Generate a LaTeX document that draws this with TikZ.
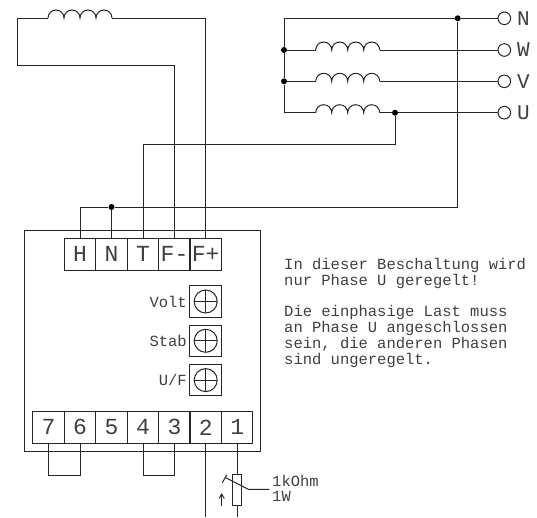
\documentclass[tikz,border=0pt]{standalone}
\usepackage{fontspec}
\setmonofont{Liberation Mono}
\usepackage{tikz}
\usetikzlibrary{arrows}
\tikzset{
  wire/.style = {draw=black!85, line width=1pt},
  terminal/.style = {rectangle, draw=black!85, line width=1pt, minimum width=31.5pt, minimum height=31.6pt, inner sep=0pt, font=\ttfamily\fontsize{23}{23}\selectfont, text=black!75},
  potbox/.style = {rectangle, draw=black!85, line width=1pt, minimum width=31.5pt, minimum height=31.6pt, inner sep=0pt},
  junction/.style = {circle, fill=black, inner sep=0pt, minimum size=6pt},
  port/.style = {circle, draw=black!85, fill=white, line width=1pt, inner sep=0pt, minimum size=12.6pt},
  phasetext/.style = {inner sep=0pt, anchor=west, font=\ttfamily\fontsize{21}{21}\selectfont, text=black!75},
  smalltext/.style = {inner sep=0pt, font=\ttfamily\fontsize{15.5}{15.7}\selectfont, text=black!75},
  notetext/.style = {smalltext, align=left, anchor=north west},
}
\newcommand{\coil}[1]{
  \draw[wire] (#1) arc[start angle=180, end angle=0, radius=8pt]
    arc[start angle=180, end angle=0, radius=8pt]
    arc[start angle=180, end angle=0, radius=8pt]
    arc[start angle=180, end angle=0, radius=8pt];
}
\begin{document}
\begin{tikzpicture}[x=1pt,y=-1pt,>=angle 60]
  \path[use as bounding box, fill=white] (0,0) rectangle (537,517);

  % housing
  \draw[wire] (24.7,230.7) rectangle (260.7,451);

  % upper terminals
  \foreach \n/\t/\x in {H/H/80,N/N/111.5,T/T/143,Fm/F-/174.5,Fp/F+/205.7} {
    \node[terminal] (term\n) at (\x,254.3) {\t};
  }
  % lower terminals
  \foreach \n/\x in {7/48.5,6/80,5/111.5,4/143,3/174.5,2/205.7,1/237.2} {
    \node[terminal] (term\n) at (\x,427.4) {\n};
  }
  % trimmers
  \foreach \n/\y in {Volt/301.5,Stab/340.8,U\slash F/380.1} {
    \node[potbox] (box) at (205.7,\y) {};
    \draw[wire] (box.center) circle (11.5pt);
    \draw[wire] (box.center) ++(-11.5,0) -- ++(23,0);
    \draw[wire] (box.center) ++(0,-11.5) -- ++(0,23);
    \node[smalltext, anchor=east] (text\y) at (187,\y) {\n};
  }

  % phase side
  \foreach \n/\t/\y in {N/N/18.3,W/W/50,V/V/81.3,U/U/112.7} {
    \node[port] (port\n) at (504.3,\y) {};
    \node[phasetext] (phase\n) at (517,\y) {\t};
  }
  \node[junction] (starW) at (284,50) {};
  \node[junction] (starV) at (284,81.3) {};
  \node[junction] (topN) at (457.7,18.3) {};
  \node[junction] (tapU) at (395,112.7) {};
  \node[junction] (neutral) at (111.5,207) {};
  \coordinate (starN) at (284,18.3);
  \coordinate (starU) at (284,112.7);
  \coordinate (bendT) at (395,144);
  \coordinate (bendN) at (457.7,207);
  \coordinate (fieldL) at (48,18);
  \coordinate (fieldR) at (112,18);
  \coordinate (fieldB) at (17,65);
  \coordinate (coilWL) at (315.7,50);
  \coordinate (coilWR) at (379.7,50);
  \coordinate (coilVL) at (315.7,81.3);
  \coordinate (coilVR) at (379.7,81.3);
  \coordinate (coilUL) at (315.7,112.7);
  \coordinate (coilUR) at (379.7,112.7);

  \coil{fieldL}
  \coil{coilWL}
  \coil{coilVL}
  \coil{coilUL}

  \draw[wire] (starN) -- (topN) -- (portN);
  \draw[wire] (starN) -- (starW) -- (starV) -- (starU);
  \draw[wire] (starW) -- (coilWL);
  \draw[wire] (coilWR) -- (portW);
  \draw[wire] (starV) -- (coilVL);
  \draw[wire] (coilVR) -- (portV);
  \draw[wire] (starU) -- (coilUL);
  \draw[wire] (coilUR) -- (tapU) -- (portU);

  % wires down to the controller
  \draw[wire] (termFp.north) |- (fieldR);
  \draw[wire] (fieldL) -| (fieldB) -| (termFm.north);
  \draw[wire] (termT.north) |- (bendT) -- (tapU);
  \draw[wire] (termH.north) |- (neutral) -- (bendN) -- (topN);
  \draw[wire] (neutral) -- (termN.north);

  % jumpers
  \draw[wire] (term7.south) -- ++(0,31.7) -| (term6.south);
  \draw[wire] (term4.south) -- ++(0,31.7) -| (term3.south);

  % potentiometer
  \node[rectangle, draw=black!85, line width=1pt, minimum width=9pt, minimum height=31.3pt, inner sep=0pt] (rheo) at (237.2,490.3) {};
  \coordinate (endTwo) at (205.7,517);
  \coordinate (endOne) at (237.2,517);
  \coordinate (wiperA) at (222.3,482.7);
  \coordinate (wiperB) at (226.7,475);
  \coordinate (wiperC) at (225,477.3);
  \coordinate (wiperD) at (248.3,489.3);
  \coordinate (wiperE) at (269.3,489.3);
  \coordinate (arrowA) at (221.7,506);
  \coordinate (arrowB) at (221.7,493);
  \draw[wire] (term2.south) -- (endTwo);
  \draw[wire] (term1.south) -- (rheo.north);
  \draw[wire] (rheo.south) -- (endOne);
  \draw[wire] (wiperA) -- (wiperB);
  \draw[wire] (wiperC) -- (wiperD) -- (wiperE);
  \draw[wire,->] (arrowA) -- (arrowB);
  \node[smalltext, anchor=west] (ratingA) at (272,481) {1kOhm};
  \node[smalltext, anchor=west] (ratingB) at (272,496.5) {1W};

  % notes
  \node[notetext] (noteA) at (284,258) {In dieser Beschaltung wird\\nur Phase U geregelt!};
  \node[notetext] (noteB) at (284,305.5) {Die einphasige Last muss\\an Phase U angeschlossen\\sein, die anderen Phasen\\sind ungeregelt.};
\end{tikzpicture}
\end{document}
